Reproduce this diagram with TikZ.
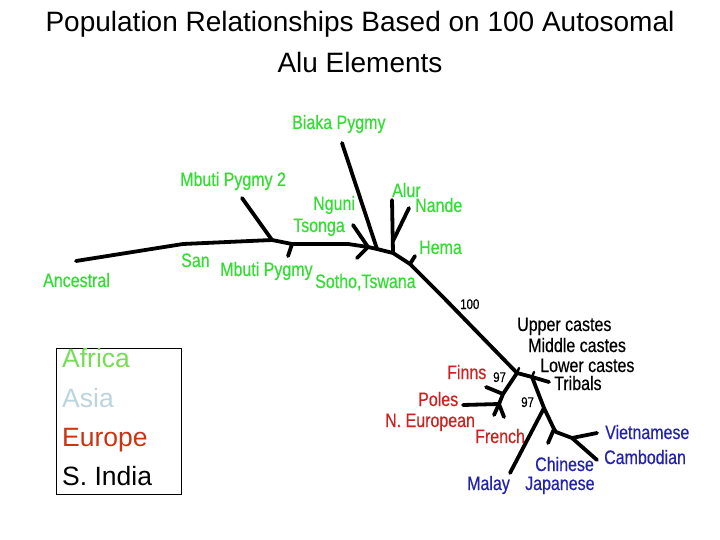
\documentclass[tikz,border=0pt]{standalone}
\usepackage{fontspec}
\setmainfont{Liberation Sans}
\newfontfamily\narrowsans[FakeStretch=0.82,FakeBold=0.5]{Liberation Sans}
\usepackage{xcolor}
\usepackage{tikz}
\definecolor{alugreen}{HTML}{33DD33}
\definecolor{alured}{HTML}{CC2222}
\definecolor{alublue}{HTML}{2222AA}
\definecolor{keygreen}{HTML}{77DD55}
\definecolor{keyblue}{HTML}{BBD4DD}
\definecolor{keyred}{HTML}{CC3311}
\tikzset{
  titletext/.style={font=\fontsize{28bp}{30bp}\selectfont,inner sep=0pt,anchor=base},
  poplbl/.style={font=\narrowsans\fontsize{19.5bp}{22bp}\selectfont,inner sep=0pt,anchor=base west},
  popafr/.style={poplbl,text=alugreen},
  popeur/.style={poplbl,text=alured},
  popasia/.style={poplbl,text=alublue},
  popind/.style={poplbl,text=black},
  bootval/.style={font=\narrowsans\fontsize{14bp}{16bp}\selectfont,inner sep=0pt,anchor=base west},
  treebr/.style={draw=black,line width=3.8bp,line cap=round,line join=round},
  keybox/.style={draw=black,line width=0.9bp,inner sep=0pt,minimum width=125bp,minimum height=146bp},
  keytext/.style={font=\fontsize{26.5bp}{30bp}\selectfont,inner sep=0pt,anchor=base west}
}
\begin{document}
\begin{tikzpicture}[x={(1bp,0)},y={(0,-1bp)}]
\useasboundingbox (0,0) rectangle (720,540);
\node[titletext] (title1) at (360,32) {Population Relationships Based on 100 Autosomal};
\node[titletext] (title2) at (360,73) {Alu Elements};
% branch points
\coordinate (anc) at (76,261);
\coordinate (bnd) at (183,244);
\coordinate (n1) at (272,240);
\coordinate (n2) at (292,244);
\coordinate (n3) at (348,244);
\coordinate (n3b) at (368,247);
\coordinate (n4) at (377,249);
\coordinate (nj) at (393,241);
\coordinate (n5) at (393,253);
\coordinate (n6) at (410,264);
\coordinate (n7) at (443,297);
\coordinate (eu) at (517,373);
\coordinate (efj) at (503,394);
\coordinate (ej) at (499,404);
\coordinate (ind) at (532,377);
\coordinate (asj) at (544,408);
\coordinate (chj) at (554,429);
\coordinate (cj) at (556,432);
\coordinate (vj) at (572,438);
% leaves
\coordinate (mbt2) at (242,198);
\coordinate (mbt) at (288,256);
\coordinate (tso) at (353,225);
\coordinate (sot) at (357,258);
\coordinate (bia) at (342,143);
\coordinate (alu) at (392,200);
\coordinate (nan) at (409,208);
\coordinate (hem) at (415,256);
\coordinate (upc) at (519,368);
\coordinate (mdc) at (534,372);
\coordinate (tri) at (549,382);
\coordinate (fin) at (486,387);
\coordinate (pol) at (463,405);
\coordinate (neu) at (494,415);
\coordinate (fre) at (504,417);
\coordinate (mal) at (510,473);
\coordinate (chi) at (548,443);
\coordinate (vie) at (597,433);
\coordinate (cam) at (597,460);
\draw[treebr] (anc) -- (bnd) -- (n1) -- (n2) -- (n3) -- (n3b) -- (n4) -- (n5) -- (n6) -- (n7) -- (eu);
\draw[treebr] (mbt2) -- (n1);
\draw[treebr] (mbt) -- (n2);
\draw[treebr] (tso) -- (n3b);
\draw[treebr] (sot) -- (n3b);
\draw[treebr] (bia) -- (n4);
\draw[treebr] (alu) -- (n5);
\draw[treebr] (nan) -- (nj);
\draw[treebr] (hem) -- (n6);
\draw[treebr] (eu) -- (efj) -- (ej);
\draw[treebr] (fin) -- (efj);
\draw[treebr] (pol) -- (ej);
\draw[treebr] (ej) -- (neu);
\draw[treebr] (ej) -- (fre);
\draw[treebr] (eu) -- (ind) -- (tri);
\draw[treebr,line width=2.4bp] (eu) -- (upc);
\draw[treebr,line width=2.4bp] (ind) -- (mdc);
\draw[treebr] (ind) -- (asj) -- (chj) -- (cj) -- (vj) -- (cam);
\draw[treebr] (asj) -- (mal);
\draw[treebr] (chj) -- (chi);
\draw[treebr] (vie) -- (vj);
% labels
\node[popafr] (biaka) at (292,129) {Biaka Pygmy};
\node[popafr] (mbuti2) at (180,186) {Mbuti Pygmy 2};
\node[popafr] (nguni) at (313,210) {Nguni};
\node[popafr] (tsonga) at (293,232) {Tsonga};
\node[popafr] (alur) at (392,197) {Alur};
\node[popafr] (nande) at (415,212) {Nande};
\node[popafr] (hema) at (419,254) {Hema};
\node[popafr] (san) at (181,267) {San};
\node[popafr] (mbuti) at (220,276) {Mbuti Pygmy};
\node[popafr] (sotho) at (315,288) {Sotho,Tswana};
\node[popafr] (ancestral) at (43,287) {Ancestral};
\node[bootval] (b100) at (460,309) {100};
\node[popind] (upper) at (517,331) {Upper castes};
\node[popind] (middle) at (528,352) {Middle castes};
\node[popind] (lower) at (540,372) {Lower castes};
\node[popind] (tribals) at (554,390) {Tribals};
\node[popeur] (finns) at (447,379) {Finns};
\node[bootval] (b97a) at (493,382) {97};
\node[popeur] (poles) at (418,406) {Poles};
\node[bootval] (b97b) at (521,407) {97};
\node[popeur] (neuro) at (385,427) {N. European};
\node[popeur] (french) at (475,443) {French};
\node[popasia] (viet) at (605,439) {Vietnamese};
\node[popasia] (camb) at (604,464) {Cambodian};
\node[popasia] (chin) at (535,471) {Chinese};
\node[popasia] (japan) at (525,490) {Japanese};
\node[popasia] (malay) at (467,490) {Malay};
% key
\node[keybox] (key) at (118.5,421) {};
\node[keytext,text=keygreen] (kafr) at (62,367) {Africa};
\node[keytext,text=keyblue] (kasia) at (62,407) {Asia};
\node[keytext,text=keyred] (keur) at (62,446) {Europe};
\node[keytext,text=black] (kind) at (62,485) {S. India};
\end{tikzpicture}
\end{document}
